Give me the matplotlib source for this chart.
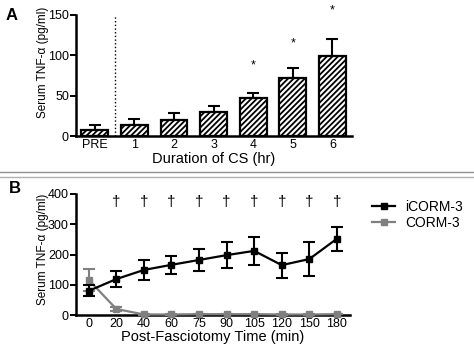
import matplotlib
matplotlib.use("Agg")
from matplotlib import pyplot as plt
from matplotlib.lines import Line2D
import numpy as np

plt.rcParams['font.family'] = ['Liberation Sans', 'DejaVu Sans']
plt.rcParams['hatch.linewidth'] = 1.3

# panel A data
cs_labels = ["PRE", "1", "2", "3", "4", "5", "6"]
cs_mean = [8, 14, 20, 30, 47, 72, 99]
cs_err = [6, 7, 8, 7, 6, 12, 21]
star_y = [None, None, None, None, 88, 115, 155]

# panel B data
time_labels = ["0", "20", "40", "60", "75", "90", "105", "120", "150", "180"]
icorm_mean = [80, 119, 149, 166, 182, 198, 212, 165, 185, 252]
icorm_err = [18, 26, 33, 30, 36, 44, 47, 41, 57, 40]
corm_mean = [116, 20, 2, 2, 3, 3, 3, 2, 2, 3]
corm_err = [36, 8, 1, 1, 1, 1, 1, 1, 1, 1]
dagger_from = 1

ylab_font = ['Liberation Sans Narrow', 'Liberation Sans', 'DejaVu Sans']

fig = plt.figure(figsize=(4.74, 3.47), dpi=100)

def style(ax):
    ax.spines['top'].set_visible(False)
    ax.spines['right'].set_visible(False)
    ax.spines['left'].set_linewidth(1.8)
    ax.spines['bottom'].set_linewidth(1.8)
    ax.tick_params(axis='y', width=1.4, length=4, labelsize=9, pad=1)
    ax.tick_params(axis='x', length=0, labelsize=9, pad=2)

# ---- A
axA = fig.add_axes([0.160, 0.608, 0.583, 0.349])
x = np.arange(len(cs_labels))
axA.bar(x, cs_mean, width=0.68, color='white', edgecolor='black',
        linewidth=1.6, hatch='//////', zorder=2)
axA.errorbar(x, cs_mean, yerr=[np.zeros(len(x)), cs_err], fmt='none',
             ecolor='black', elinewidth=1.5, capsize=4.5, capthick=1.5, zorder=1)
for i, s in enumerate(star_y):
    if s is not None:
        axA.text(x[i], s, "*", ha='center', va='center', fontsize=9, clip_on=False)
axA.axvline(0.5, color='black', linestyle=':', linewidth=1)
axA.set_xlim(-0.48, 6.5)
axA.set_ylim(0, 150)
axA.set_yticks([0, 50, 100, 150])
axA.set_xticks(x)
axA.set_xticklabels(cs_labels)
axA.set_xlabel("Duration of CS (hr)", fontsize=10.5, labelpad=1)
axA.set_ylabel("Serum TNF-α (pg/ml)", fontsize=8.5, family=ylab_font)
axA.yaxis.set_label_coords(-0.098, 0.61)
style(axA)

# ---- B
axB = fig.add_axes([0.160, 0.092, 0.578, 0.349])
t = np.arange(len(time_labels))
axB.errorbar(t, corm_mean, yerr=corm_err, color='#808080', marker='s',
             markersize=5, linewidth=1.6, elinewidth=1.5, capsize=4.5,
             capthick=1.5, clip_on=False, zorder=3)
axB.errorbar(t, icorm_mean, yerr=icorm_err, color='black', marker='s',
             markersize=5, linewidth=1.6, elinewidth=1.5, capsize=4.5,
             capthick=1.5, clip_on=False, zorder=4)
for i in t[dagger_from:]:
    axB.text(i, 373, "†", ha='center', va='center', fontsize=11)
axB.set_xlim(-0.47, 9.47)
axB.set_ylim(0, 400)
axB.set_yticks([0, 100, 200, 300, 400])
axB.set_xticks(t)
axB.set_xticklabels(time_labels)
axB.set_xlabel("Post-Fasciotomy Time (min)", fontsize=10.5, labelpad=0)
axB.set_ylabel("Serum TNF-α (pg/ml)", fontsize=8.5, family=ylab_font)
axB.yaxis.set_label_coords(-0.098, 0.54)
style(axB)

handles = [Line2D([], [], color='black', marker='s', markersize=4.5, linewidth=1.6),
           Line2D([], [], color='#808080', marker='s', markersize=4.5, linewidth=1.6)]
axB.legend(handles, ["iCORM-3", "CORM-3"], loc='upper left',
           bbox_to_anchor=(1.06, 1.0), frameon=False, fontsize=10,
           handlelength=1.7, handletextpad=0.7, borderaxespad=0, labelspacing=0.15)

# panel letters and separator
fig.text(0.012, 0.978, "A", fontsize=12, fontweight='bold', va='top')
fig.text(0.018, 0.478, "B", fontsize=12, fontweight='bold', va='top')
fig.add_artist(Line2D([0, 1], [1 - 172 / 347] * 2, color='#909090', linewidth=1))
fig.add_artist(Line2D([0, 1], [1 - 177 / 347] * 2, color='#b0b0b0', linewidth=1))

fig.savefig("out.png", dpi=100)
